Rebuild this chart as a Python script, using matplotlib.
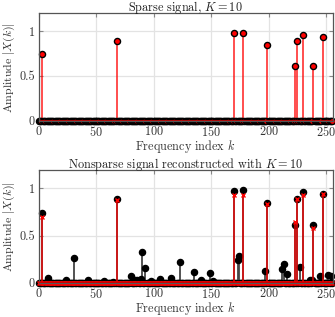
import numpy as np
import matplotlib
matplotlib.use("Agg")
import matplotlib.pyplot as plt

plt.rcParams['font.family'] = 'serif'
plt.rcParams['font.serif'] = ['cmr10']
plt.rcParams['mathtext.fontset'] = 'cm'
plt.rcParams['axes.formatter.use_mathtext'] = True

N = 256
K = 10

# the K big coefficients
big_idx = [3, 68, 170, 178, 199, 223, 225, 230, 239, 247]
big_val = [0.745, 0.89, 0.975, 0.985, 0.845, 0.61, 0.89, 0.96, 0.61, 0.94]
# reconstruction values at the same indices
rec_val = [0.70, 0.88, 0.93, 0.93, 0.84, 0.65, 0.89, 0.93, 0.58, 0.945]

# small extra coefficients in the nonsparse signal
small_idx = [8, 24, 31, 43, 57, 65, 80, 84, 86, 89, 90, 93, 98, 106, 115, 123,
             135, 141, 149, 152, 173, 174, 197, 212, 213, 216, 227, 236, 238,
             245, 252, 254]
small_val = [0.05, 0.036, 0.268, 0.036, 0.022, 0.015, 0.077, 0.03, 0.03, 0.037,
             0.33, 0.16, 0.022, 0.04, 0.048, 0.22, 0.117, 0.03, 0.11, 0.02,
             0.24, 0.29, 0.128, 0.147, 0.2, 0.09, 0.172, 0.03, 0.036, 0.074,
             0.088, 0.07]

k = np.arange(N)
sparse = np.zeros(N)
sparse[big_idx] = big_val
nonsparse = sparse.copy()
nonsparse[small_idx] = small_val
recon = np.zeros(N)
recon[big_idx] = rec_val

fig = plt.figure(figsize=(3.35, 3.17), dpi=100)
ax1 = fig.add_axes([0.115, 0.618, 0.879, 0.340])
ax2 = fig.add_axes([0.115, 0.106, 0.879, 0.359])

fs = 8.8
spine_c = '#555555'
for ax in (ax1, ax2):
    ax.set_xlim(0, N)
    ax.set_ylim(-0.005, 1.2)
    ax.set_xticks([0, 50, 100, 150, 200, 250])
    ax.set_yticks([0, 0.5, 1])
    ax.set_yticklabels(['0', '0.5', '1'])
    ax.grid(True, color='#e3e3e3', lw=0.9)
    ax.set_axisbelow(True)
    ax.tick_params(direction='in', length=3, width=0.8, color='#888888',
                   labelsize=fs, top=True, right=True, pad=2.5,
                   labelcolor='#333333')
    for s in ax.spines.values():
        s.set_color(spine_c)
        s.set_linewidth(0.9)
    ax.set_xlabel('Frequency index $k$', fontsize=fs, labelpad=-0.5, color='#333333')
    ax.set_ylabel('Amplitude $|X(k)|$', fontsize=8.5, labelpad=1.5, color='#333333')

# top panel
ml, sl, bl = ax1.stem(k, sparse, basefmt=' ')
plt.setp(sl, color='red', lw=1.3, alpha=0.75)
plt.setp(ml, marker='o', ms=4.4, mfc='red', mec='black', mew=1.0, clip_on=False)
ax1.plot([0, N], [0, 0], color='#cc0000', lw=2, zorder=2.5)
ax1.set_title('Sparse signal, $K=10$', fontsize=fs, pad=1.5, color='#222222')

# bottom panel
ml, sl, bl = ax2.stem(k, nonsparse, basefmt=' ')
plt.setp(sl, color='#444444', lw=1.3)
plt.setp(ml, marker='o', ms=4.4, mfc='black', mec='black', clip_on=False)
ml2, sl2, bl2 = ax2.stem(k, recon, basefmt=' ')
plt.setp(sl2, color='red', lw=1.3, alpha=0.75)
plt.setp(ml2, marker='x', ms=3.5, mec='red', mew=1.0, clip_on=False)
ax2.plot([0, N], [0, 0], color='#cc0000', lw=2.5, zorder=3)
ax2.set_title('Nonsparse signal reconstructed with $K=10$', fontsize=fs, pad=1,
              color='#222222')

fig.savefig('out.png', dpi=100)
